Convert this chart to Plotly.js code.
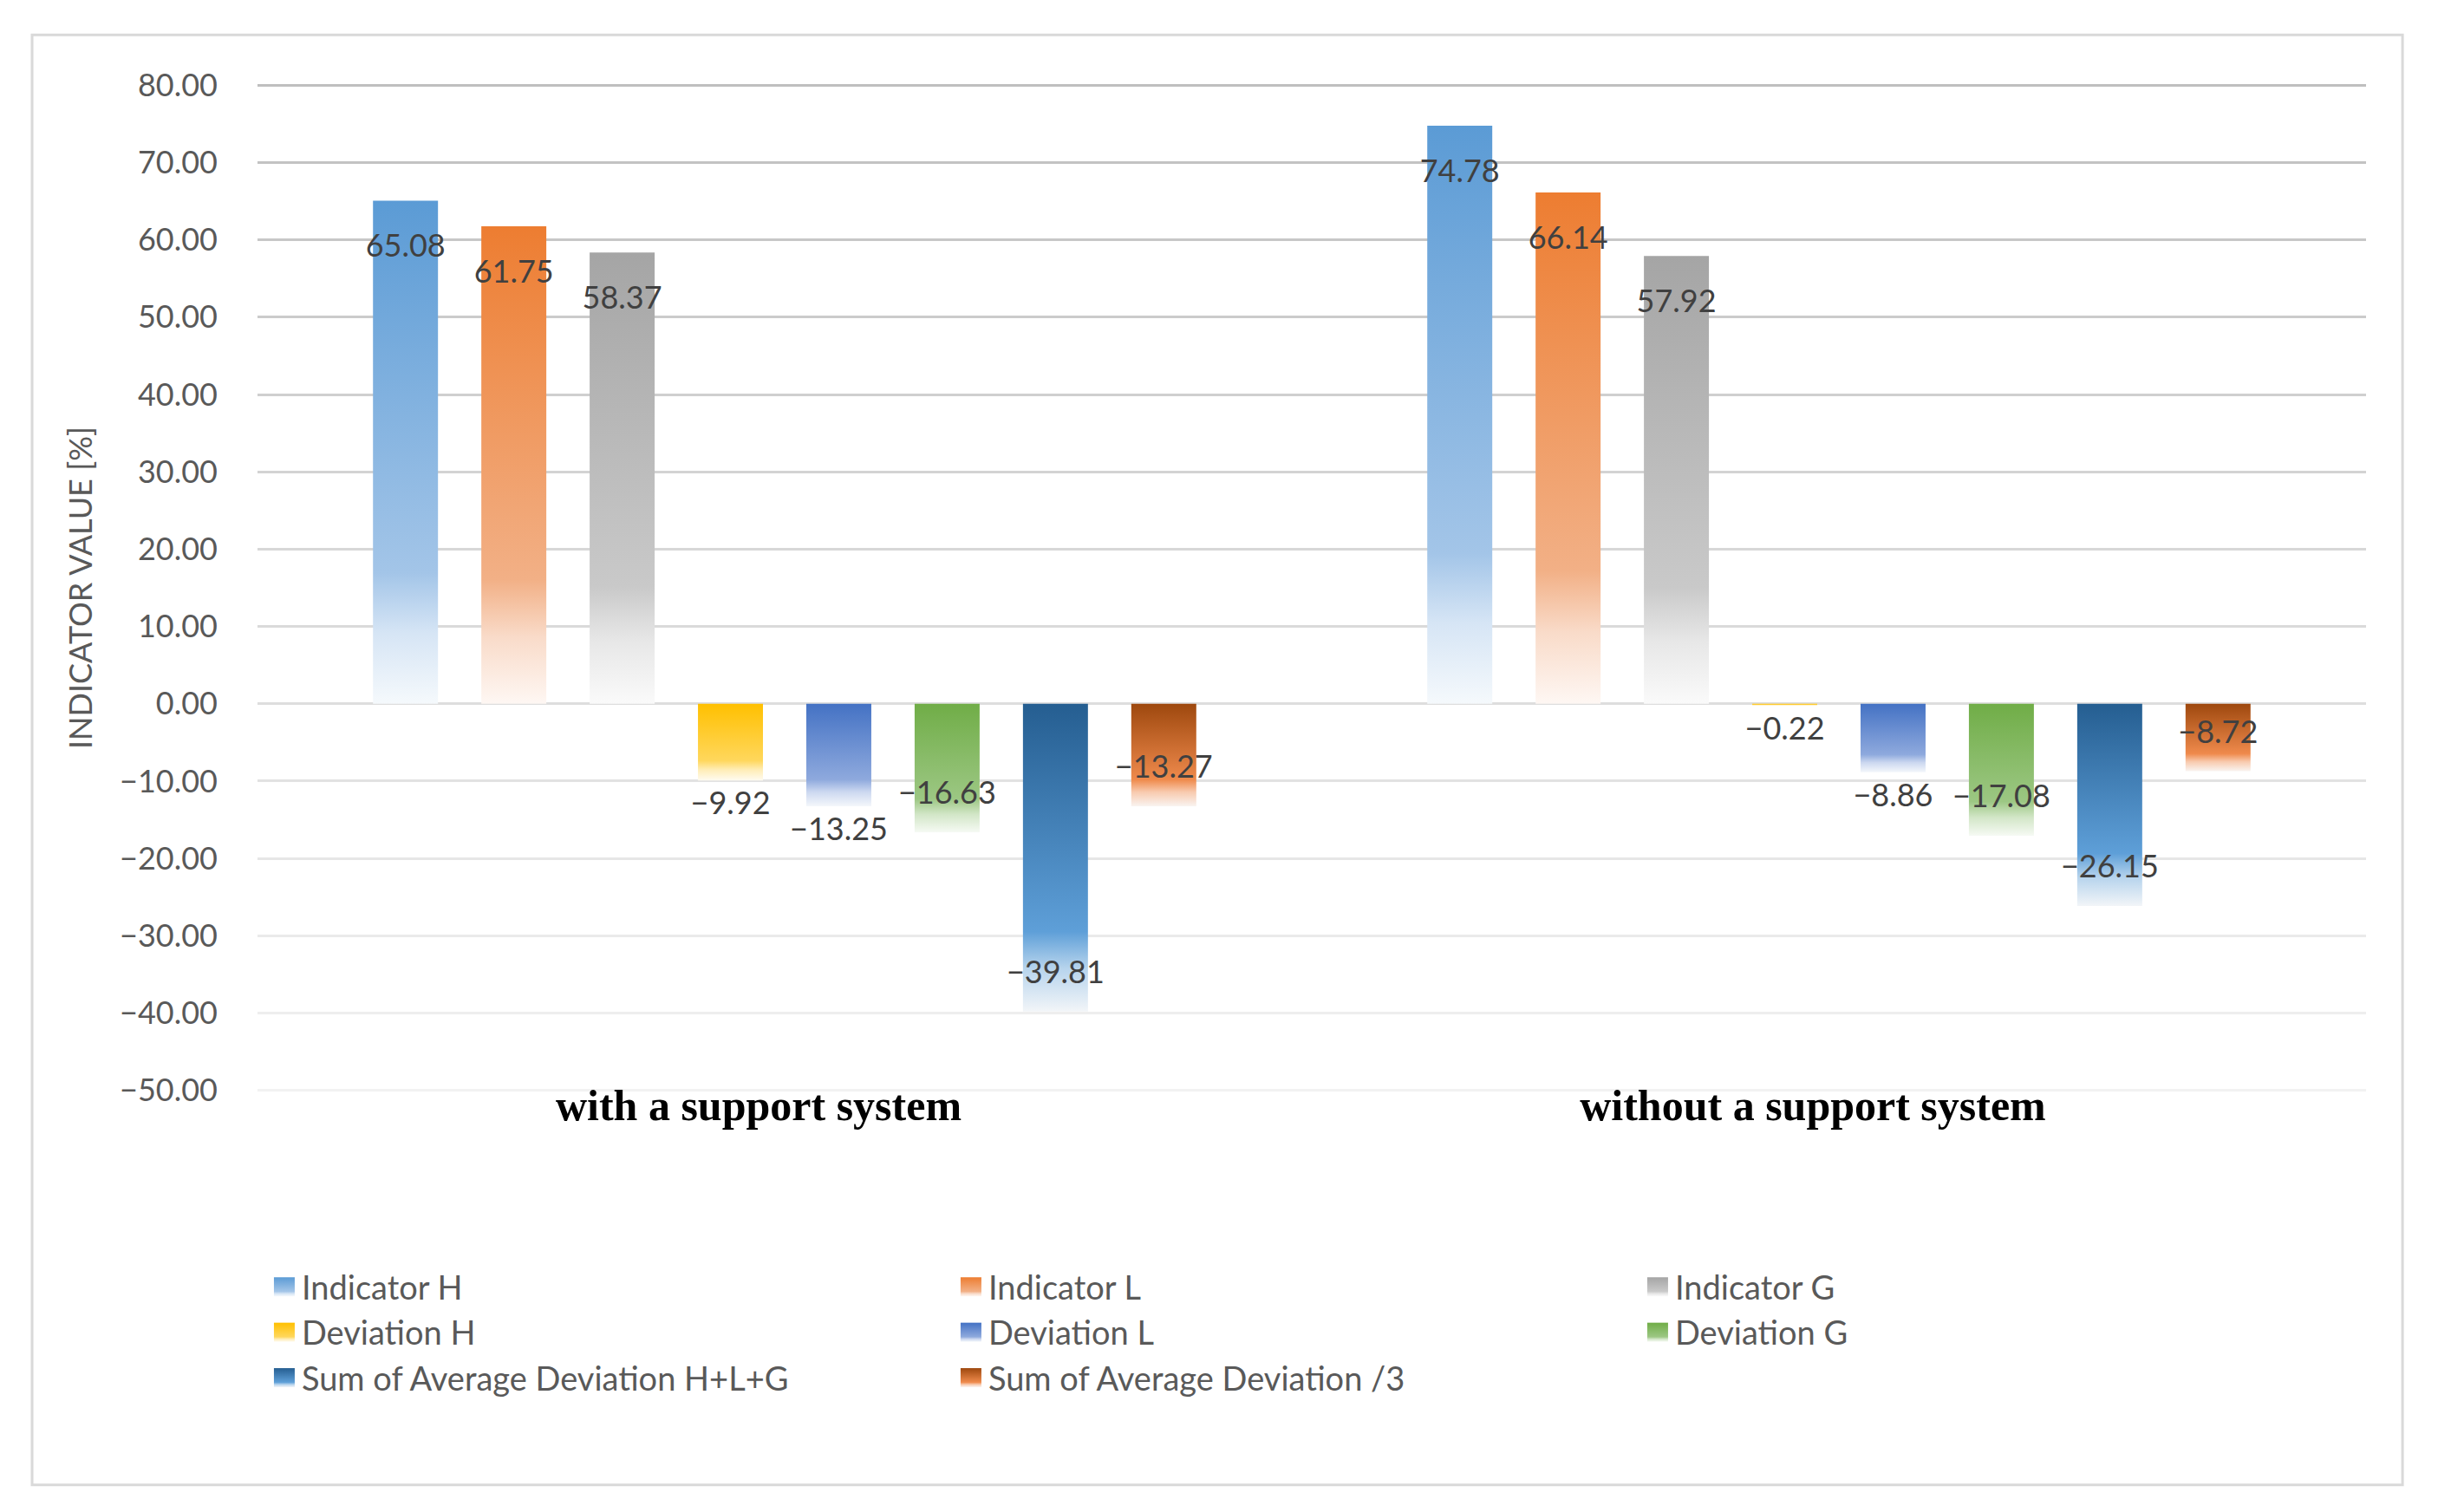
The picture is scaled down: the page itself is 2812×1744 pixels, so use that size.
<!DOCTYPE html>
<html>
<head>
<meta charset="utf-8">
<script src="https://cdn.plot.ly/plotly-3.0.1.min.js"></script>
<style>
html,body{margin:0;padding:0;background:#ffffff;}
#chart{width:2812px;height:1744px;}
</style>
</head>
<body>
<div id="chart"></div>
<script>
// ---------- data ----------
const categories = ['with a support system', 'without a support system'];
const seriesNames = ['Indicator H', 'Indicator L', 'Indicator G', 'Deviation H', 'Deviation L', 'Deviation G',
  'Sum of Average Deviation H+L+G', 'Sum of Average Deviation /3'];
const indicatorH = [65.08, 74.78];
const indicatorL = [61.75, 66.14];
const indicatorG = [58.37, 57.92];
const deviationH = [-9.92, -0.22];
const deviationL = [-13.25, -8.86];
const deviationG = [-16.63, -17.08];
const sumDeviationHLG = [-39.81, -26.15];
const sumDeviationThird = [-13.27, -8.72];
const seriesValues = [indicatorH, indicatorL, indicatorG, deviationH, deviationL, deviationG, sumDeviationHLG, sumDeviationThird];

// ---------- style ----------
const topColors = ['#5B9BD5', '#ED7D31', '#A5A5A5', '#FFC000', '#4472C4', '#70AD47', '#255E91', '#9E480E'];
const midColors = ['#A3C5E8', '#F2B086', '#C9C9C9', '#FFD75C', '#8EA9DD', '#9CC783', '#5E9FD8', '#EF8A4C'];
const labelPlacement = [
  ['inside', 'inside'], ['inside', 'inside'], ['inside', 'inside'],
  ['outside', 'outside'], ['outside', 'outside'], ['inside', 'inside'],
  ['inside', 'inside'], ['inside', 'inside']
];
const LABEL_FONT = 'Lato, "Open Sans", sans-serif';
const INSIDE_SHIFT_POS = 26;   // px deeper into positive bars
const INSIDE_SHIFT_NEG = 22;   // px deeper into negative bars

function fmt(v) { return v.toFixed(2).replace('-', '\u2212'); }

const traces = seriesValues.map((vals, i) => ({
  type: 'bar',
  name: seriesNames[i],
  x: categories,
  y: vals,
  text: vals.map(fmt),
  textposition: labelPlacement[i],
  insidetextanchor: 'end',
  textangle: 0,
  constraintext: 'none',
  cliponaxis: false,
  textfont: { family: LABEL_FONT, size: 36, color: '#404040' },
  marker: { color: topColors[i], line: { width: 0 } },
  hoverinfo: 'skip'
}));

const layout = {
  width: 2812,
  height: 1744,
  paper_bgcolor: '#ffffff',
  plot_bgcolor: '#ffffff',
  margin: { l: 297, r: 83, t: 97, b: 485, autoexpand: false },
  barmode: 'group',
  bargap: 0.178,
  bargroupgap: 0.4,
  showlegend: true,
  font: { family: LABEL_FONT, color: '#595959', size: 36 },
  xaxis: {
    type: 'category',
    showgrid: false,
    zeroline: false,
    showline: false,
    ticks: '',
    ticklabelshift: -30,
    ticklabelstandoff: -18,
    tickfont: { family: '"Liberation Serif", "DejaVu Serif", serif', size: 50, color: '#000000', weight: 'bold' }
  },
  yaxis: {
    range: [-50.15, 80.15],
    tick0: 0,
    dtick: 10,
    tickformat: '.2f',
    showgrid: true,
    gridcolor: '#D9D9D9',
    gridwidth: 3,
    zeroline: false,
    showline: false,
    ticks: '',
    ticklabelstandoff: 45,
    tickfont: { family: LABEL_FONT, size: 36, color: '#595959' },
    title: { text: 'INDICATOR VALUE [%]', font: { family: LABEL_FONT, size: 36, color: '#595959' }, standoff: 20 }
  },
  legend: {
    orientation: 'h',
    x: 0.0045,
    xanchor: 'left',
    y: -0.167,
    yanchor: 'top',
    entrywidth: 747,
    entrywidthmode: 'pixels',
    traceorder: 'normal',
    bgcolor: 'rgba(0,0,0,0)',
    font: { family: LABEL_FONT, size: 38, color: '#595959' }
  },
  shapes: [{
    type: 'rect', xref: 'paper', yref: 'paper',
    x0: -0.1069, x1: 1.0173, y0: -0.3904, y1: 1.0488,
    line: { color: '#D9D9D9', width: 3 }, fillcolor: 'rgba(0,0,0,0)', layer: 'below'
  }]
};

function hexToRgb(h) { const n = parseInt(h.slice(1), 16); return [(n >> 16) & 255, (n >> 8) & 255, n & 255]; }
function toWhite(h, t) {
  const c = hexToRgb(h).map(v => Math.round(v + (255 - v) * t));
  return 'rgb(' + c.join(',') + ')';
}
function lerpHex(a, b, t) {
  const ca = hexToRgb(a), cb = hexToRgb(b);
  return 'rgb(' + ca.map((v, k) => Math.round(v + (cb[k] - v) * t)).join(',') + ')';
}

function decorate(gd) {
  const NS = 'http://www.w3.org/2000/svg';
  const svg = gd.querySelector('svg.main-svg');
  const defs = document.createElementNS(NS, 'defs');
  svg.insertBefore(defs, svg.firstChild);
  topColors.forEach((c, i) => {
    const lg = document.createElementNS(NS, 'linearGradient');
    lg.setAttribute('id', 'barGrad' + i);
    lg.setAttribute('x1', '0'); lg.setAttribute('y1', '0');
    lg.setAttribute('x2', '0'); lg.setAttribute('y2', '1');
    const stops = [[0, c], [0.74, midColors[i]], [0.86, toWhite(midColors[i], 0.55)], [1, toWhite(c, 0.94)]];
    stops.forEach(s => {
      const st = document.createElementNS(NS, 'stop');
      st.setAttribute('offset', s[0]);
      st.setAttribute('stop-color', s[1]);
      lg.appendChild(st);
    });
    defs.appendChild(lg);
  });
  gd.querySelectorAll('.barlayer .trace').forEach((tr, i) => {
    tr.querySelectorAll('.point').forEach((pt, j) => {
      pt.querySelectorAll('path').forEach(p => { p.style.fill = 'url(#barGrad' + i + ')'; });
      const txt = pt.querySelector('text');
      if (txt && labelPlacement[i][j] === 'inside') {
        const v = seriesValues[i][j];
        const dy = v >= 0 ? INSIDE_SHIFT_POS : -INSIDE_SHIFT_NEG;
        const tf = txt.getAttribute('transform') || '';
        txt.setAttribute('transform', 'translate(0,' + dy + ') ' + tf);
      }
    });
  });
  gd.querySelectorAll('.legend .traces').forEach((it, i) => {
    it.querySelectorAll('.legendpoints path').forEach(p => {
      p.setAttribute('d', 'M12,11H-12V-11H12Z');
      p.style.fill = 'url(#barGrad' + i + ')';
    });
  });
  const sz = gd._fullLayout._size;
  const top = sz.t, bot = sz.t + sz.h;
  const gbox = gd.getBoundingClientRect();
  gd.querySelectorAll('.gridlayer path').forEach(p => {
    const r = p.getBoundingClientRect();
    const y = r.top - gbox.top + r.height / 2;
    const t = Math.max(0, Math.min(1, (y - top) / (bot - top)));
    p.style.stroke = lerpHex('#BFBFBF', '#F2F2F2', t);
  });
}

Plotly.newPlot('chart', traces, layout, { staticPlot: true, displayModeBar: false }).then(decorate);
</script>
</body>
</html>
